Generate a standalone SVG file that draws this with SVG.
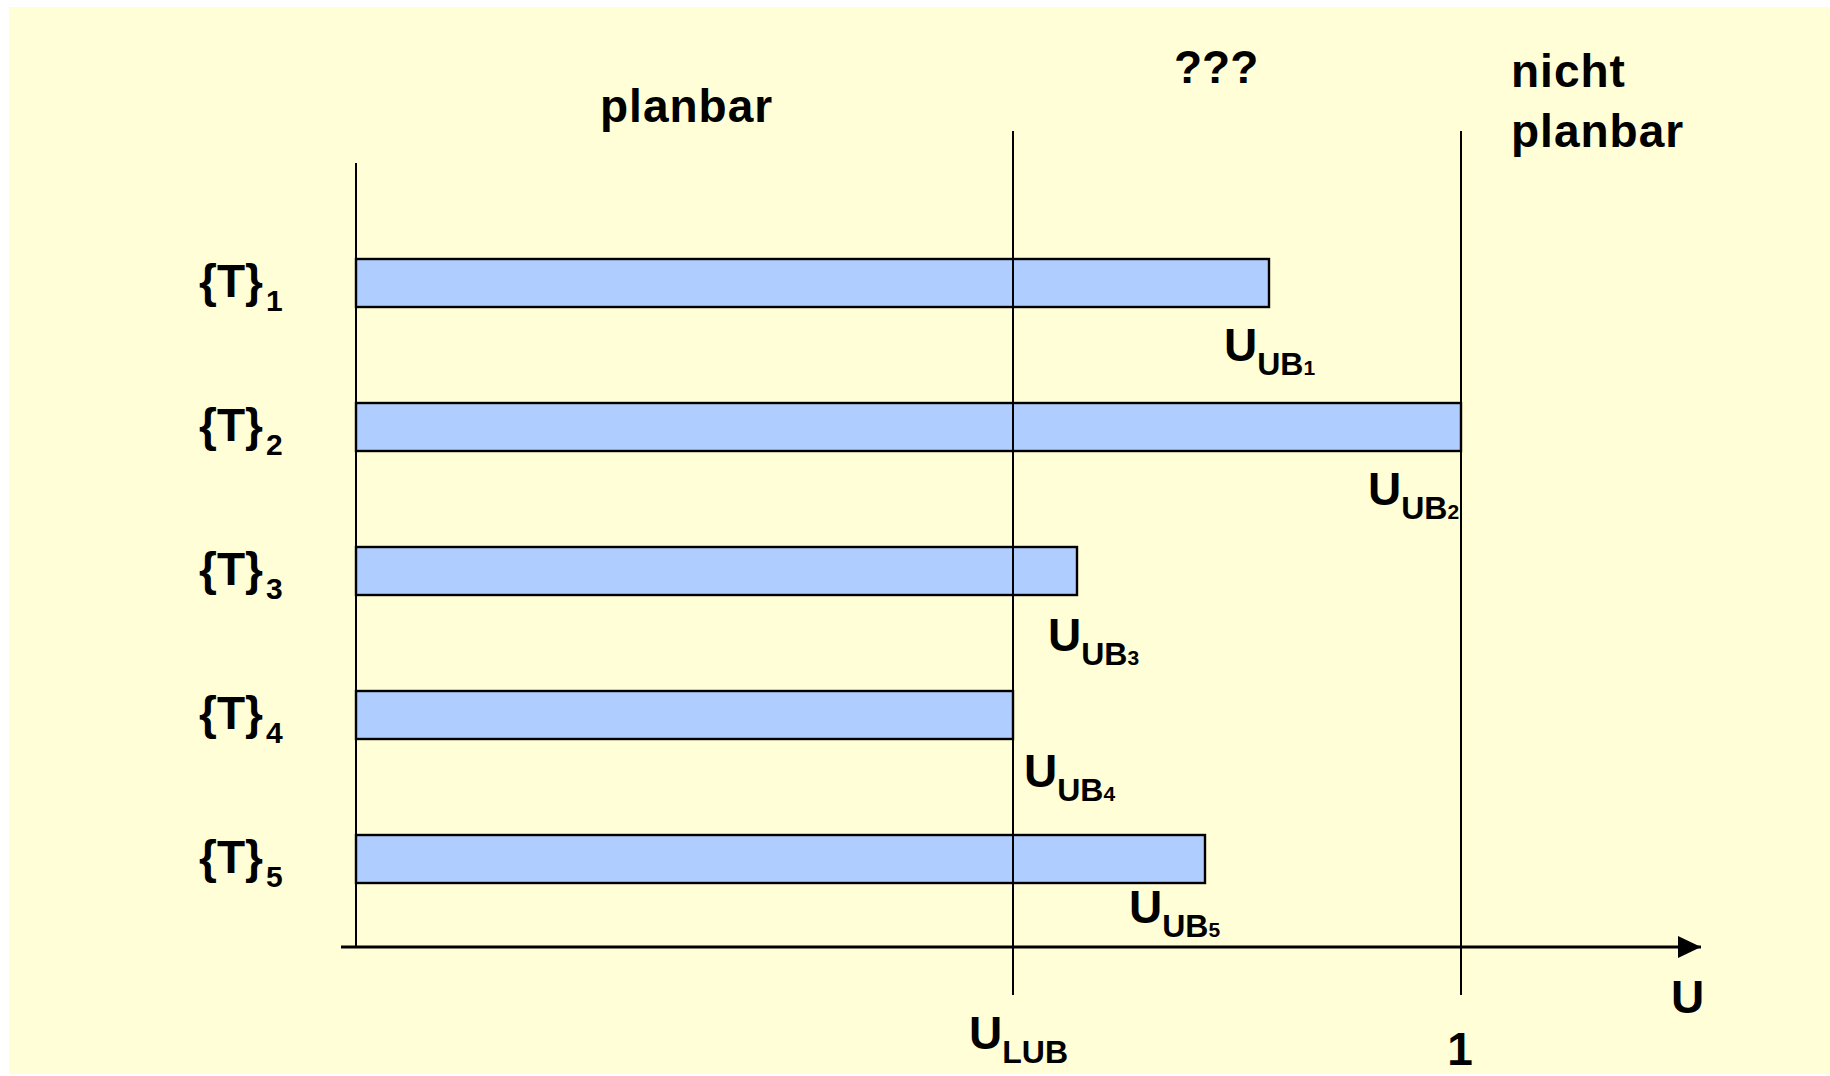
<svg xmlns="http://www.w3.org/2000/svg" width="1830" height="1076" viewBox="0 0 1830 1076">
  <style>
    .t { font-family: "Liberation Sans", Arial, Helvetica, sans-serif; font-weight: bold; fill: #000; }
    .big { font-size: 46px; }
    .hd { letter-spacing: 1px; }
    .sub { font-size: 30px; }
    .sub2 { font-size: 32px; }
    .sub3 { font-size: 21px; }
    .bar { fill: #AFCEFF; stroke: #000; stroke-width: 2.4; }
    .ln { stroke: #000; stroke-width: 2; fill: none; }
    .axis { stroke: #000; stroke-width: 3; fill: none; }
  </style>
  <defs>
    <marker id="arrow" markerUnits="userSpaceOnUse" markerWidth="24" markerHeight="22" refX="23" refY="11" orient="auto">
      <polygon points="0,0 23,11 0,22" fill="#000"/>
    </marker>
  </defs>
  <rect x="0" y="0" width="1830" height="1076" fill="#FFFFFF"/>
  <rect x="9" y="7" width="1821" height="1067" fill="#FFFED6"/>

  <g id="bars">
    <g id="bar1"><rect class="bar" x="356" y="259" width="913" height="48"/></g>
    <g id="bar2"><rect class="bar" x="356" y="403" width="1105" height="48"/></g>
    <g id="bar3"><rect class="bar" x="356" y="547" width="721" height="48"/></g>
    <g id="bar4"><rect class="bar" x="356" y="691" width="657" height="48"/></g>
    <g id="bar5"><rect class="bar" x="356" y="835" width="849" height="48"/></g>
  </g>

  <g id="connectors">
    <line class="ln" x1="356" y1="163" x2="356" y2="947"/>
    <line class="ln" x1="1013" y1="131" x2="1013" y2="995"/>
    <line class="ln" x1="1461" y1="131" x2="1461" y2="995"/>
    <line class="axis" x1="341" y1="947" x2="1701" y2="947" marker-end="url(#arrow)"/>
  </g>

  <g id="header-planbar"><text class="t big hd" x="600" y="122">planbar</text></g>
  <g id="header-unknown"><text class="t big" x="1174" y="83">???</text></g>
  <g id="header-nicht-planbar">
    <text class="t big hd" x="1511" y="87">nicht</text>
    <text class="t big hd" x="1511" y="147">planbar</text>
  </g>

  <g id="label-T1"><text class="t big" x="199" y="297">{T}<tspan class="sub" dx="3" dy="14">1</tspan></text></g>
  <g id="label-T2"><text class="t big" x="199" y="441">{T}<tspan class="sub" dx="3" dy="14">2</tspan></text></g>
  <g id="label-T3"><text class="t big" x="199" y="585">{T}<tspan class="sub" dx="3" dy="14">3</tspan></text></g>
  <g id="label-T4"><text class="t big" x="199" y="729">{T}<tspan class="sub" dx="3" dy="14">4</tspan></text></g>
  <g id="label-T5"><text class="t big" x="199" y="873">{T}<tspan class="sub" dx="3" dy="14">5</tspan></text></g>

  <g id="label-UB1"><text class="t big" x="1224" y="361">U<tspan class="sub2" dy="14">UB</tspan><tspan class="sub3">1</tspan></text></g>
  <g id="label-UB2"><text class="t big" x="1368" y="505">U<tspan class="sub2" dy="14">UB</tspan><tspan class="sub3">2</tspan></text></g>
  <g id="label-UB3"><text class="t big" x="1048" y="651">U<tspan class="sub2" dy="14">UB</tspan><tspan class="sub3">3</tspan></text></g>
  <g id="label-UB4"><text class="t big" x="1024" y="787">U<tspan class="sub2" dy="14">UB</tspan><tspan class="sub3">4</tspan></text></g>
  <g id="label-UB5"><text class="t big" x="1129" y="923">U<tspan class="sub2" dy="14">UB</tspan><tspan class="sub3">5</tspan></text></g>

  <g id="label-ULUB"><text class="t big" x="969" y="1049">U<tspan class="sub2" dy="14">LUB</tspan></text></g>
  <g id="label-one"><text class="t big" x="1460" y="1065" text-anchor="middle">1</text></g>
  <g id="label-U-axis"><text class="t big" x="1671" y="1013">U</text></g>
</svg>
